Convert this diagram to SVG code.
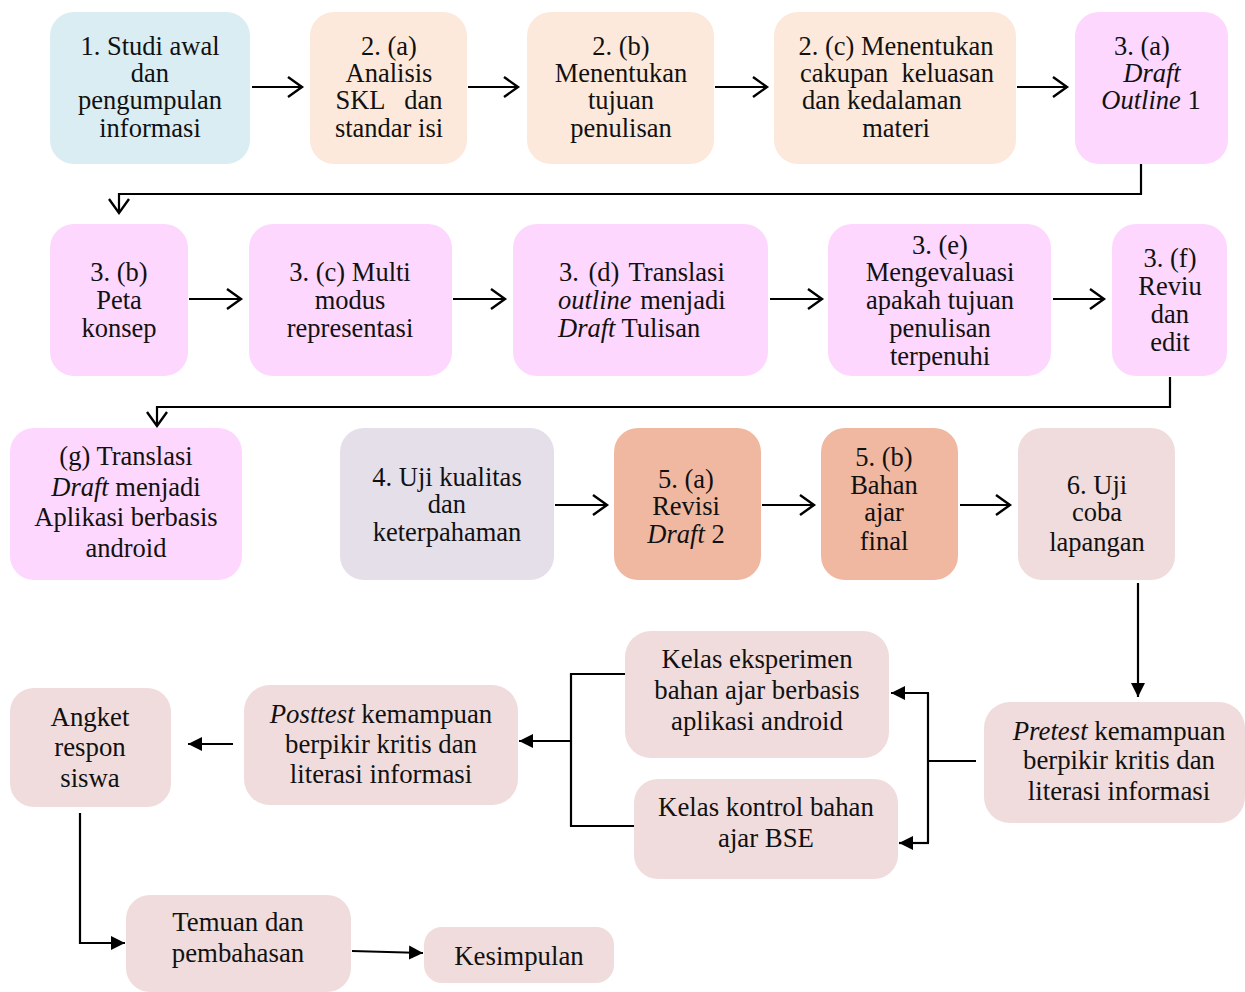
<svg xmlns="http://www.w3.org/2000/svg" width="1245" height="992" viewBox="0 0 1245 992" font-family="'Liberation Serif', serif">
<style>
text{font-family:'Liberation Serif',serif;font-size:26.5px;fill:#111;text-anchor:middle}
.b text{font-size:26.8px}
.s{text-anchor:start}
.i{font-style:italic}
.c{fill:none;stroke:#000;stroke-width:2.2}
.blue{fill:#daedf3}.peach{fill:#fde9db}.pink{fill:#fdd7fd}.lav{fill:#e5dfea}.sal{fill:#f0b8a0}.rose{fill:#f0dcdc}
</style>
<defs>
<marker id="open" markerUnits="userSpaceOnUse" markerWidth="18" markerHeight="24" refX="15" refY="11" orient="auto">
<path d="M1,1 L15,11 L1,21" fill="none" stroke="#000" stroke-width="2.4"/>
</marker>
<marker id="fill" markerUnits="userSpaceOnUse" markerWidth="16" markerHeight="16" refX="14" refY="8" orient="auto">
<path d="M0,1 L14,8 L0,15 Z" fill="#000"/>
</marker>
</defs>

<g id="n1"><rect class="blue" x="50" y="12" width="200" height="152" rx="24"/>
<text x="150" y="55">1. Studi awal</text><text x="150" y="82">dan</text><text x="150" y="109">pengumpulan</text><text x="150" y="137">informasi</text></g>
<g id="n2a"><rect class="peach" x="310" y="12" width="157" height="152" rx="24"/>
<text x="389" y="55">2. (a)</text><text x="389" y="82">Analisis</text><text x="389" y="109" xml:space="preserve">SKL   dan</text><text x="389" y="137">standar isi</text></g>
<g id="n2b"><rect class="peach" x="527" y="12" width="187" height="152" rx="24"/>
<text x="621" y="55">2. (b)</text><text x="621" y="82">Menentukan</text><text x="621" y="109">tujuan</text><text x="621" y="137">penulisan</text></g>
<g id="n2c"><rect class="peach" x="774" y="12" width="242" height="152" rx="24"/>
<text x="896" y="55">2. (c) Menentukan</text><text x="897" y="82" xml:space="preserve">cakupan  keluasan</text><text class="s" x="802" y="109">dan kedalaman</text><text x="896" y="137">materi</text></g>
<g id="n3a"><rect class="pink" x="1075" y="12" width="153" height="152" rx="24"/>
<text x="1142" y="55">3. (a)</text><text class="i" x="1152" y="82">Draft</text><text x="1151" y="109"><tspan class="i">Outline</tspan> 1</text></g>

<g id="n3b"><rect class="pink" x="50" y="224" width="138" height="152" rx="24"/>
<text x="119" y="281">3. (b)</text><text x="119" y="309">Peta</text><text x="119" y="337">konsep</text></g>
<g id="n3c"><rect class="pink" x="249" y="224" width="203" height="152" rx="24"/>
<text x="350" y="281">3. (c) Multi</text><text x="350" y="309">modus</text><text x="350" y="337">representasi</text></g>
<g id="n3d"><rect class="pink" x="513" y="224" width="255" height="152" rx="24"/>
<text class="s" x="559" y="281" word-spacing="3">3. (d) Translasi</text><text class="s" x="558" y="309" word-spacing="2"><tspan class="i">outline</tspan> menjadi</text><text class="s" x="558" y="337"><tspan class="i">Draft</tspan> Tulisan</text></g>
<g id="n3e"><rect class="pink" x="828" y="224" width="223" height="152" rx="24"/>
<text x="940" y="254">3. (e)</text><text x="940" y="281">Mengevaluasi</text><text x="940" y="309">apakah tujuan</text><text x="940" y="337">penulisan</text><text x="940" y="365">terpenuhi</text></g>
<g id="n3f"><rect class="pink" x="1112" y="224" width="115" height="152" rx="24"/>
<text x="1170" y="267">3. (f)</text><text x="1170" y="295">Reviu</text><text x="1170" y="323">dan</text><text x="1170" y="351">edit</text></g>

<g id="ng"><rect class="pink" x="10" y="428" width="232" height="152" rx="24"/>
<text x="126" y="465">(g) Translasi</text><text x="126" y="496"><tspan class="i">Draft</tspan> menjadi</text><text x="126" y="526">Aplikasi berbasis</text><text x="126" y="557">android</text></g>
<g id="n4"><rect class="lav" x="340" y="428" width="214" height="152" rx="24"/>
<text x="447" y="486">4. Uji kualitas</text><text x="447" y="513">dan</text><text x="447" y="541">keterpahaman</text></g>
<g id="n5a"><rect class="sal" x="614" y="428" width="147" height="152" rx="24"/>
<text x="686" y="488">5. (a)</text><text x="686" y="515">Revisi</text><text x="686" y="543"><tspan class="i">Draft</tspan> 2</text></g>
<g id="n5b"><rect class="sal" x="821" y="428" width="137" height="152" rx="24"/>
<text x="884" y="466">5. (b)</text><text x="884" y="494">Bahan</text><text x="884" y="521">ajar</text><text x="884" y="550">final</text></g>
<g id="n6"><rect class="rose" x="1018" y="428" width="157" height="152" rx="24"/>
<text x="1097" y="494">6. Uji</text><text x="1097" y="521">coba</text><text x="1097" y="551">lapangan</text></g>

<g class="b">
<g id="npre"><rect class="rose" x="984" y="702" width="261" height="121" rx="26"/>
<text x="1119" y="740"><tspan class="i">Pretest</tspan> kemampuan</text><text x="1119" y="769">berpikir kritis dan</text><text x="1119" y="800">literasi informasi</text></g>
<g id="nexp"><rect class="rose" x="625" y="631" width="264" height="127" rx="26"/>
<text x="757" y="668">Kelas eksperimen</text><text x="757" y="699">bahan ajar berbasis</text><text x="757" y="730">aplikasi android</text></g>
<g id="nkon"><rect class="rose" x="634" y="779" width="264" height="100" rx="24"/>
<text x="766" y="816">Kelas kontrol bahan</text><text x="766" y="847">ajar BSE</text></g>
<g id="npost"><rect class="rose" x="244" y="685" width="274" height="120" rx="26"/>
<text x="381" y="723"><tspan class="i">Posttest</tspan> kemampuan</text><text x="381" y="753">berpikir kritis dan</text><text x="381" y="783">literasi informasi</text></g>
<g id="nang"><rect class="rose" x="10" y="688" width="161" height="119" rx="24"/>
<text x="90" y="726">Angket</text><text x="90" y="756">respon</text><text x="90" y="787">siswa</text></g>
<g id="ntem"><rect class="rose" x="126" y="895" width="225" height="97" rx="24"/>
<text x="238" y="931">Temuan dan</text><text x="238" y="962">pembahasan</text></g>
<g id="nkes"><rect class="rose" x="424" y="927" width="190" height="56" rx="18"/>
<text x="519" y="965">Kesimpulan</text></g>
</g>

<g id="connectors">
<path class="c" marker-end="url(#open)" d="M252,87 H302"/>
<path class="c" marker-end="url(#open)" d="M468,87 H518"/>
<path class="c" marker-end="url(#open)" d="M715,87 H767"/>
<path class="c" marker-end="url(#open)" d="M1017,87 H1067"/>
<path class="c" marker-end="url(#open)" d="M1141,164 V194 H119 V213"/>
<path class="c" marker-end="url(#open)" d="M189,299 H241"/>
<path class="c" marker-end="url(#open)" d="M453,299 H505"/>
<path class="c" marker-end="url(#open)" d="M770,299 H822"/>
<path class="c" marker-end="url(#open)" d="M1053,299 H1104"/>
<path class="c" marker-end="url(#open)" d="M1170,377 V407 H157 V426"/>
<path class="c" marker-end="url(#open)" d="M555,505 H607"/>
<path class="c" marker-end="url(#open)" d="M762,505 H814"/>
<path class="c" marker-end="url(#open)" d="M960,505 H1010"/>
<path class="c" marker-end="url(#fill)" d="M1138,583 V697"/>
<path class="c" d="M976,761 H928 M928,693 V843"/>
<path class="c" marker-end="url(#fill)" d="M929,693 H891"/>
<path class="c" marker-end="url(#fill)" d="M929,843 H899"/>
<path class="c" d="M625,674 H571 V826 H634"/>
<path class="c" marker-end="url(#fill)" d="M571,741 H519"/>
<path class="c" marker-end="url(#fill)" d="M233,744 H188"/>
<path class="c" marker-end="url(#fill)" d="M80,813 V943 H125"/>
<path class="c" marker-end="url(#fill)" d="M352,951 L423,953"/>
</g>
</svg>
